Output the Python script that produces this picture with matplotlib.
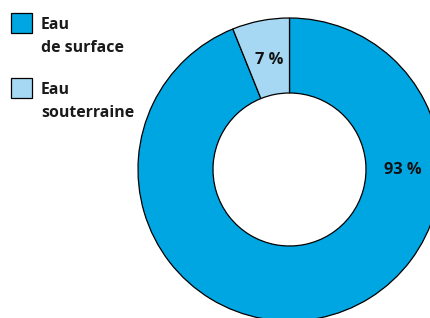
import numpy as np
import matplotlib
matplotlib.use("Agg")
import matplotlib.pyplot as plt
from matplotlib.patches import Rectangle

# shares as drawn (the printed labels are rounded differently)
categories = ["Eau\nde surface", "Eau\nsouterraine"]
shares = [93.9, 6.1]
pct_labels = ["93 %", "7 %"]
colors = ["#00A6E2", "#A6D8F3"]

plt.rcParams['font.family'] = ['Open Sans', 'DejaVu Sans']

fig = plt.figure(figsize=(4.30, 3.18), dpi=100)
ax = fig.add_axes([0, 0, 1, 1])

# work in pixel units: x 0..430, y 0..318 (y up)
cx, cy = 289.5, 148.5
r_out, r_in = 151.5, 76.5

wedges, _ = ax.pie(shares, colors=colors, startangle=90, counterclock=False,
                   center=(cx, cy), radius=r_out,
                   wedgeprops=dict(width=r_out - r_in, edgecolor="black", linewidth=0.9))

# percentage labels placed in the ring
label_pos = [(-0.5, 113.3), (100.5, 111.4)]  # (angle deg, radius px)
for txt, (ang, rr) in zip(pct_labels, label_pos):
    a = np.deg2rad(ang)
    ax.text(cx + rr * np.cos(a), cy + rr * np.sin(a), txt, ha="center", va="center",
            fontsize=11.8, fontweight="bold", color="#111111")

# legend drawn by hand at top-left
box_top = [305, 240]
for cat, col, top in zip(categories, colors, box_top):
    ax.add_patch(Rectangle((10.5, top - 19.5), 21, 19.5, facecolor=col,
                           edgecolor="black", linewidth=0.9))
    for i, line in enumerate(cat.split("\n")):
        ax.text(41, top - 16.3 - 22.4 * i, line, ha="left", va="baseline",
                fontsize=11.4, fontweight="bold", color="#1a1a1a")

ax.set_xlim(0, 430)
ax.set_ylim(0, 318)
ax.set_aspect("equal")
ax.axis("off")

fig.savefig("out.png", dpi=100)
